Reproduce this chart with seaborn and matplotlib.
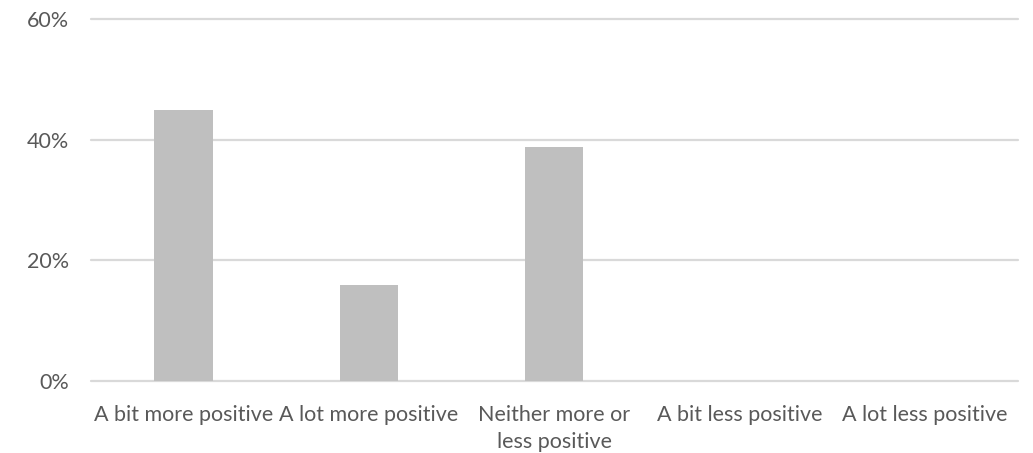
import matplotlib
matplotlib.use("Agg")
import matplotlib.pyplot as plt
import seaborn as sns
import pandas as pd
from matplotlib.ticker import PercentFormatter

categories = [
    "A bit more positive",
    "A lot more positive",
    "Neither more or\nless positive",
    "A bit less positive",
    "A lot less positive",
]
shares = [0.45, 0.159, 0.388, 0.0, 0.0]
yticks = [0.0, 0.2, 0.4, 0.6]

df = pd.DataFrame({"category": categories, "share": shares})

sns.set_theme(style="white")
plt.rcParams["font.family"] = ["Lato", "DejaVu Sans"]

text_color = "#595959"
grid_color = "#D9D9D9"

fig = plt.figure(figsize=(10.33, 4.53), dpi=100)
ax = fig.add_axes([0.088, 0.159, 0.897, 0.798])

sns.barplot(data=df, x="category", y="share", color="#BFBFBF",
            saturation=1, width=0.316, linewidth=0, ax=ax, zorder=3)

ax.set_ylim(0, 0.6)
ax.set_yticks(yticks)
ax.yaxis.set_major_formatter(PercentFormatter(1.0, decimals=0))
ax.set_xlim(-0.5, len(categories) - 0.5)

ax.grid(axis="y", color=grid_color, linewidth=1.6, zorder=0)
ax.grid(axis="x", visible=False)
for line in ax.get_ygridlines():
    line.set_clip_on(False)
for side in ["top", "right", "left", "bottom"]:
    ax.spines[side].set_visible(False)

ax.set_xlabel("")
ax.set_ylabel("")
ax.tick_params(axis="both", length=0, labelsize=15.5, colors=text_color)
ax.tick_params(axis="x", pad=17.5)
ax.tick_params(axis="y", pad=16)
for lbl in ax.get_xticklabels():
    lbl.set_linespacing(1.4)

fig.savefig("out.png", dpi=100, facecolor="white")
